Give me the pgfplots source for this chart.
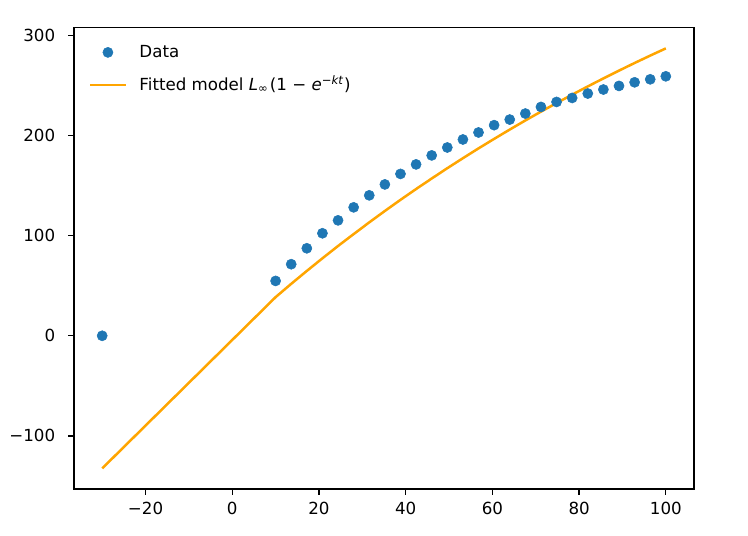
\documentclass[border=0pt]{standalone}
\usepackage{fontspec}
\setmainfont{DejaVu Sans}
\usepackage{pgfplots}
\usepackage{pgfplotstable}
\pgfplotsset{compat=1.18}

\definecolor{databblue}{HTML}{1F77B4}
\definecolor{fitorange}{HTML}{FFA500}

% observed lengths
\pgfplotstableread{
t L
-30 0
10 54.8
13.6 71.5
17.2 87.4
20.8 102.4
24.4 115.3
28 128.3
31.6 140.3
35.2 151.2
38.8 161.7
42.4 171.2
46 180.2
49.6 188.1
53.2 196.1
56.8 203.1
60.4 210.4
64 216.0
67.6 222.0
71.2 228.6
74.8 233.6
78.4 237.6
82 242.0
85.6 246.0
89.2 249.6
92.8 253.2
96.4 256.2
100 259.2
}\observed

% fitted curve evaluated at the observation times
\pgfplotstableread{
t L
-30 -132.5
10 38.6
13.6 51.9
17.2 64.8
20.8 77.4
24.4 89.7
28 101.6
31.6 113.3
35.2 124.7
38.8 135.8
42.4 146.6
46 157.1
49.6 167.4
53.2 177.4
56.8 187.2
60.4 196.7
64 206.0
67.6 215.1
71.2 223.9
74.8 232.5
78.4 240.9
82 249.1
85.6 257.1
89.2 264.9
92.8 272.5
96.4 279.9
100 287.1
}\fitted

\begin{document}
\begin{tikzpicture}
\begin{axis}[
  name=ax,
  scale only axis,
  width=465pt, height=346.1pt,
  xmin=-36.5, xmax=106.5,
  ymin=-153, ymax=308,
  xtick={-20,0,20,40,60,80,100},
  xticklabels={−20,0,20,40,60,80,100},
  ytick={-100,0,100,200,300},
  yticklabels={−100,0,100,200,300},
  xtick pos=bottom, ytick pos=left,
  tick align=outside,
  major tick length=4.4pt,
  tick style={line width=1pt, black},
  axis line style={line width=1pt},
  every tick label/.append style={font=\fontsize{12.5}{15}\selectfont},
  xticklabel style={inner sep=0pt, anchor=north, yshift=-5.5pt},
  yticklabel style={inner sep=0pt, anchor=east, xshift=-9.5pt},
  legend image code/.code={%
    \draw[mark repeat=2, mark phase=2, #1]
      plot coordinates {(0pt,0pt) (13.25pt,0pt) (26.5pt,0pt)};},
  legend cell align=left,
  legend style={
    draw=none, fill=none,
    at={(axis description cs:0,1)}, anchor=north west,
    xshift=11.25pt, yshift=-14.2pt,
    inner sep=0pt, outer sep=0pt,
    row sep=15.3pt, column sep=9.5pt,
    font=\fontsize{12.5}{15}\selectfont,
    nodes={inner sep=0pt, text height=8.6pt, text depth=0.4pt},
  },
]
\addplot[databblue, only marks, mark=*, mark size=3.8pt,
  mark options={solid, fill=databblue, draw=databblue, line width=0.4pt}]
  table[x=t, y=L] {\observed};
\addlegendentry{Data}
\addplot[fitorange, line width=1.875pt, mark=none] table[x=t, y=L] {\fitted};
\addlegendentry{Fitted model \textit{L}\textsubscript{∞}\kern0.08em(1\kern0.32em−\kern0.32em\textit{e}\textsuperscript{−\textit{kt}})}
\end{axis}
\path ([xshift=-55.5pt, yshift=-35.25pt]ax.south west)
  rectangle ([xshift=40.5pt, yshift=20.6pt]ax.north east);
\end{tikzpicture}
\end{document}
